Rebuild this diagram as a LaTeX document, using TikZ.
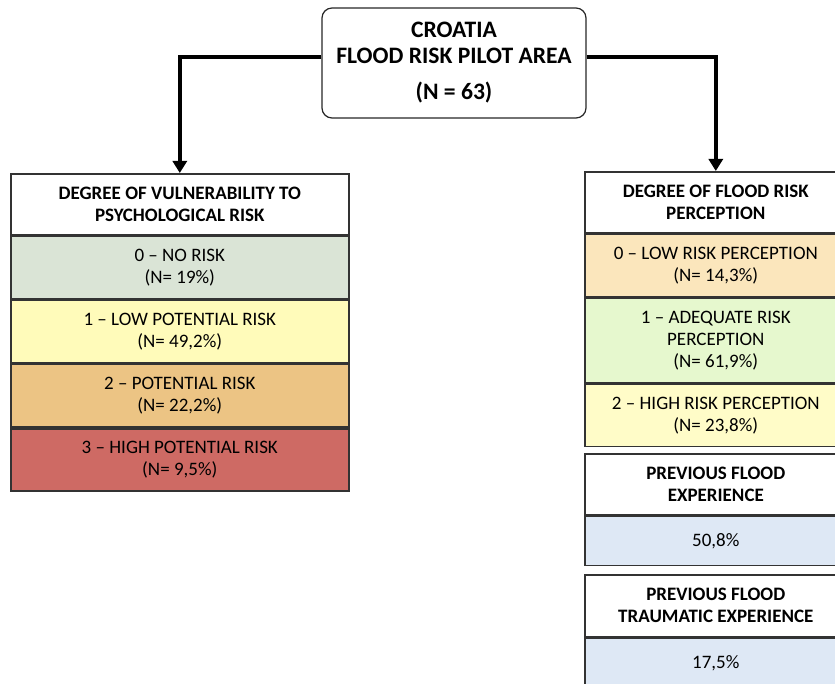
\documentclass[tikz,border=0pt]{standalone}
\usepackage{fontspec}
\setmainfont{Carlito}
\usetikzlibrary{positioning,arrows.meta}

\definecolor{norisk}{HTML}{DAE4D6}
\definecolor{lowrisk}{HTML}{FFFBBA}
\definecolor{midrisk}{HTML}{ECC484}
\definecolor{highrisk}{HTML}{CE6A64}
\definecolor{lowperc}{HTML}{FBE6BC}
\definecolor{goodperc}{HTML}{E6F8CE}
\definecolor{highperc}{HTML}{FFFCC8}
\definecolor{share}{HTML}{DEE8F5}

\tikzset{
	cell/.style={draw=black!80,line width=0.8pt,align=center,inner sep=0pt,font=\fontsize{9.5}{11}\selectfont},
	head/.style={cell,fill=white,font=\bfseries\fontsize{9.5}{11}\selectfont},
	leftcol/.style={minimum width=169pt},
	rightcol/.style={minimum width=131pt},
	link/.style={line width=2pt,-{Triangle[width=7pt,length=6pt]}}
}

\begin{document}
\begin{tikzpicture}[x=0.5pt,y=-0.5pt]
			\clip (0,0) rectangle (835,684);

			\node[draw=black!85,line width=0.6pt,rounded corners=5pt,minimum width=132pt,minimum height=55pt,
				align=center,font=\bfseries\fontsize{11.8}{13}\selectfont] (pilot) at (454,63)
			{CROATIA\\FLOOD RISK PILOT AREA\\[5pt](N = 63)};

			% vulnerability column
			\node[head,leftcol,minimum height=30.5pt,anchor=north west] (vulhead) at (10,173)
			{DEGREE OF VULNERABILITY TO\\PSYCHOLOGICAL RISK};
			\node[cell,leftcol,minimum height=31.25pt,fill=norisk,below=0pt of vulhead] (vul0)
			{0 -- NO RISK\\(N= 19\%)};
			\node[cell,leftcol,minimum height=31.25pt,fill=lowrisk,below=0pt of vul0] (vul1)
			{1 -- LOW POTENTIAL RISK\\(N= 49,2\%)};
			\node[cell,leftcol,minimum height=31.25pt,fill=midrisk,below=0pt of vul1] (vul2)
			{2 -- POTENTIAL RISK\\(N= 22,2\%)};
			\node[cell,leftcol,minimum height=31.25pt,fill=highrisk,below=0pt of vul2] (vul3)
			{3 -- HIGH POTENTIAL RISK\\(N= 9,5\%)};

			% perception column
			\node[head,rightcol,minimum height=30.5pt,anchor=north west] (perchead) at (584,171)
			{DEGREE OF FLOOD RISK\\PERCEPTION};
			\node[cell,rightcol,minimum height=31pt,fill=lowperc,below=0pt of perchead] (perc0)
			{0 -- LOW RISK PERCEPTION\\(N= 14,3\%)};
			\node[cell,rightcol,minimum height=42.5pt,fill=goodperc,below=0pt of perc0] (perc1)
			{1 -- ADEQUATE RISK\\PERCEPTION\\(N= 61,9\%)};
			\node[cell,rightcol,minimum height=31pt,fill=highperc,below=0pt of perc1] (perc2)
			{2 -- HIGH RISK PERCEPTION\\(N= 23,8\%)};

			\node[head,rightcol,minimum height=30.5pt,anchor=north west] (exphead) at (584,453)
			{PREVIOUS FLOOD\\EXPERIENCE};
			\node[cell,rightcol,minimum height=24.5pt,fill=share,below=0pt of exphead] (expval)
			{50,8\%};

			\node[head,rightcol,minimum height=31pt,anchor=north west] (traumahead) at (584,574)
			{PREVIOUS FLOOD\\TRAUMATIC EXPERIENCE};
			\node[cell,rightcol,minimum height=24.5pt,fill=share,below=0pt of traumahead] (traumaval)
			{17,5\%};

			\draw[link] ([yshift=3pt]pilot.west) -| (vulhead.north);
			\draw[link] ([yshift=3pt]pilot.east) -| (perchead.north);
		\end{tikzpicture}
\end{document}
